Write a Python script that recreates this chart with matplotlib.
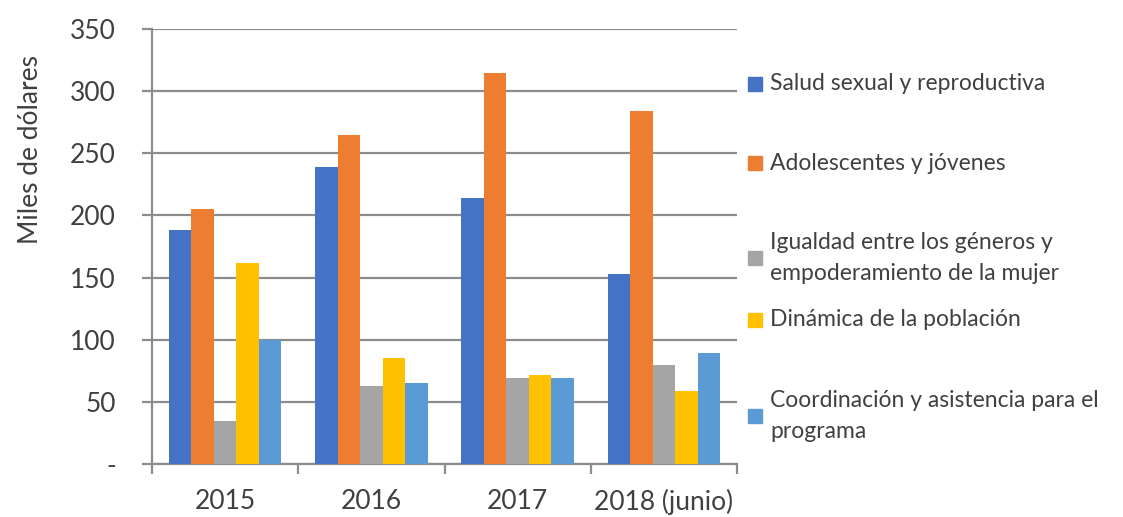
import numpy as np
import matplotlib
matplotlib.use("Agg")
import matplotlib.pyplot as plt
from matplotlib.patches import Rectangle

plt.rcParams['font.family'] = ['Lato', 'DejaVu Sans']

years = ['2015', '2016', '2017', '2018 (junio)']
series = ['Salud sexual y reproductiva',
          'Adolescentes y jóvenes',
          'Igualdad entre los géneros y\nempoderamiento de la mujer',
          'Dinámica de la población',
          'Coordinación y asistencia para el\nprograma']
salud = [188, 239, 214, 153]
adolescentes = [205, 265, 315, 284]
igualdad = [35, 63, 69, 80]
dinamica = [162, 85, 72, 59]
coordinacion = [100, 65, 69, 89]
colors = ['#4472C4', '#ED7D31', '#A5A5A5', '#FFC000', '#5B9BD5']
values = [salud, adolescentes, igualdad, dinamica, coordinacion]

W, H = 1123, 517
fig = plt.figure(figsize=(W / 100, H / 100), dpi=100)
ax = fig.add_axes([152 / W, 1 - 464 / H, 585 / W, 435 / H])

txt = '#404040'
grid = '#8c8c8c'
x = np.arange(len(years))
bw = 0.154
for i, (vals, c) in enumerate(zip(values, colors)):
    ax.bar(x + (i - 2) * bw, vals, bw, color=c, zorder=3)

ax.set_xlim(-0.5, 3.5)
ax.set_ylim(0, 350)
ax.set_yticks(range(0, 351, 50))
ax.set_yticklabels(['-'] + [str(v) for v in range(50, 351, 50)])
ax.yaxis.grid(True, color=grid, linewidth=1.6, zorder=0)
for s in ['top', 'right']:
    ax.spines[s].set_visible(False)
for s in ['left', 'bottom']:
    ax.spines[s].set_color(grid)
    ax.spines[s].set_linewidth(1.6)
ax.tick_params(axis='y', length=7, width=1.6, color=grid, pad=19,
               labelsize=19, labelcolor=txt)
ax.set_xticks(x)
ax.set_xticklabels(years)
ax.tick_params(axis='x', length=0, pad=18, labelsize=19, labelcolor=txt)
ax.set_xticks(np.arange(-0.5, 4, 1), minor=True)
ax.tick_params(axis='x', which='minor', length=7, width=1.6, color=grid)

fig.text(31 / W, 1 - 150 / H, 'Miles de dólares', rotation=90,
         ha='center', va='center', fontsize=19, color=txt)

# legend placed by hand like the original
leg_y = [84, 163, 258, 320, 416]
for name, c, yy in zip(series, colors, leg_y):
    fig.patches.append(Rectangle((748 / W, 1 - (yy + 7) / H), 14 / W, 14 / H,
                                 transform=fig.transFigure, color=c))
    fig.text(770 / W, 1 - yy / H, name, ha='left', va='center',
             fontsize=16.5, color=txt, linespacing=1.55)

fig.savefig('out.png', dpi=100)
